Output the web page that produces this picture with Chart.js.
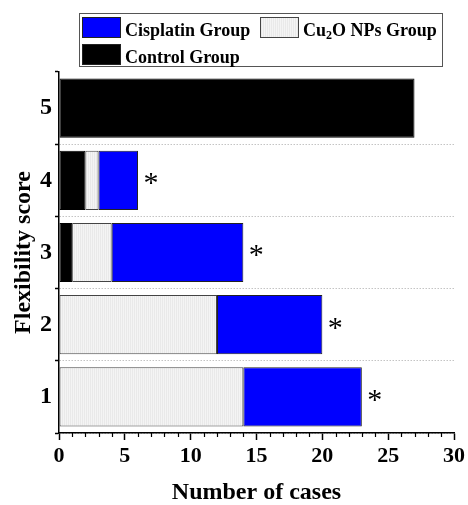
<!DOCTYPE html>
<html>
<head>
<meta charset="utf-8">
<script src="https://cdn.jsdelivr.net/npm/chart.js@4"></script>
<style>
  html, body { margin: 0; padding: 0; background: #fff; }
  #wrap { position: relative; width: 468px; height: 505px; }
  #chart { position: absolute; left: 0; top: 0; }
  #legend {
    position: absolute; left: 79px; top: 13px; width: 362px; height: 52px;
    border: 1px solid #555; box-sizing: content-box;
    font-family: "Liberation Serif", "Times New Roman", serif;
    font-weight: bold; font-size: 18px; color: #000;
  }
  .sw { position: absolute; width: 37px; height: 19px; border: 1px solid #222; }
  .lab { position: absolute; line-height: 18px; white-space: nowrap; }
  .lab sub { font-size: 12px; line-height: 0; vertical-align: -3px; }
</style>
</head>
<body>
<div id="wrap">
  <canvas id="chart" width="468" height="505"></canvas>
  <div id="legend"></div>
</div>
<script>
// Flexibility score per group (number of cases)
const scores = ['5', '4', '3', '2', '1'];
const controlCases = [27, 2, 1, 0, 0];
const cu2oCases = [0, 1, 3, 12, 14];
const cisplatinCases = [0, 3, 10, 8, 9];
const significance = ['', '*', '*', '*', '*'];
const xMin = 0, xMax = 30, xMajorStep = 5;

const SERIF = '"Liberation Serif", "Times New Roman", serif';

// fine vertical hatch used for the Cu2O NPs group
function makeHatch() {
  const c = document.createElement('canvas');
  c.width = 2; c.height = 2;
  const g = c.getContext('2d');
  g.fillStyle = '#f4f4f4';
  g.fillRect(0, 0, 2, 2);
  g.fillStyle = '#e9e9e9';
  g.fillRect(0, 0, 1, 2);
  return g.createPattern(c, 'repeat');
}
const ctx = document.getElementById('chart').getContext('2d');
const hatch = makeHatch();

const series = [
  { label: 'Control Group', data: controlCases, backgroundColor: '#000000', borderColor: '#000000' },
  { label: 'Cu2O NPs Group', data: cu2oCases, backgroundColor: hatch, borderColor: '#444444' },
  { label: 'Cisplatin Group', data: cisplatinCases, backgroundColor: '#0000ff', borderColor: '#222222' }
];

// minor ticks on the x axis and significance marks at the end of each bar
const extras = {
  id: 'extras',
  afterDraw(chart) {
    const c = chart.ctx;
    const xs = chart.scales.x;
    const ys = chart.scales.y;
    c.save();
    c.strokeStyle = '#000';
    c.lineWidth = 1.2;
    for (let v = xMin; v <= xMax; v++) {
      if (v % xMajorStep === 0) continue;
      const px = Math.round(xs.getPixelForValue(v)) + 0.5;
      c.beginPath();
      c.moveTo(px, xs.top);
      c.lineTo(px, xs.top + 4);
      c.stroke();
    }
    c.fillStyle = '#000';
    c.font = '30px ' + SERIF;
    c.textAlign = 'center';
    c.textBaseline = 'middle';
    scores.forEach((s, i) => {
      if (!significance[i]) return;
      const total = controlCases[i] + cu2oCases[i] + cisplatinCases[i];
      const px = xs.getPixelForValue(total);
      const py = ys.getPixelForValue(i);
      c.fillText(significance[i], px + 13, py + 4);
    });
    c.restore();
  }
};

new Chart(ctx, {
  type: 'bar',
  data: {
    labels: scores,
    datasets: series.map(s => ({
      label: s.label,
      data: s.data,
      backgroundColor: s.backgroundColor,
      borderColor: s.borderColor,
      borderWidth: 1,
      borderSkipped: false,
      barPercentage: 0.82,
      categoryPercentage: 1
    }))
  },
  options: {
    indexAxis: 'y',
    responsive: false,
    animation: false,
    layout: { padding: { top: 72, right: 13, left: 0, bottom: 0 } },
    plugins: { legend: { display: false }, tooltip: { enabled: false } },
    scales: {
      x: {
        stacked: true,
        min: xMin,
        max: xMax,
        ticks: {
          stepSize: 1,
          autoSkip: false,
          maxRotation: 0,
          padding: 3,
          color: '#000',
          font: { family: SERIF, size: 22, weight: 'bold' },
          callback: v => (v % xMajorStep === 0 ? String(v) : '')
        },
        grid: {
          drawOnChartArea: false,
          tickLength: 7,
          tickWidth: 1.5,
          tickColor: c => (c.tick && c.tick.value % xMajorStep === 0 ? '#000' : 'rgba(0,0,0,0)')
        },
        border: { color: '#000', width: 1.5 },
        title: {
          display: true,
          text: 'Number of cases',
          color: '#000',
          font: { family: SERIF, size: 24, weight: 'bold', lineHeight: 1 },
          padding: { top: 0, bottom: 0 }
        },
        afterFit: s => { s.height = 72; }
      },
      y: {
        stacked: true,
        ticks: {
          padding: 3,
          color: '#000',
          font: { family: SERIF, size: 24, weight: 'bold' }
        },
        grid: {
          offset: true,
          tickLength: 4,
          tickWidth: 1.5,
          tickColor: '#000',
          lineWidth: 1,
          color: c => (c.index === 0 || c.index >= scores.length ? 'rgba(0,0,0,0)' : '#c4c4c4')
        },
        border: { color: '#000', width: 1.5, dash: [1.5, 1.5] },
        title: {
          display: true,
          text: 'Flexibility score',
          color: '#000',
          font: { family: SERIF, size: 24, weight: 'bold', lineHeight: 1 },
          padding: { top: 12, bottom: 0 }
        },
        afterFit: s => { s.width = 59; }
      }
    }
  },
  plugins: [extras]
});

// legend box, listed as in the figure: Cisplatin, Cu2O NPs, Control
const legendItems = [
  { html: 'Cisplatin Group', fill: '#0000ff', x: 2, y: 3, tx: 45 },
  { html: 'Cu<sub>2</sub>O NPs Group', fill: null, x: 180, y: 3, tx: 223 },
  { html: 'Control Group', fill: '#000000', x: 2, y: 30, tx: 45 }
];
const legend = document.getElementById('legend');
legendItems.forEach(it => {
  const sw = document.createElement('div');
  sw.className = 'sw';
  sw.style.left = it.x + 'px';
  sw.style.top = it.y + 'px';
  if (it.fill) {
    sw.style.background = it.fill;
  } else {
    sw.style.background = 'repeating-linear-gradient(90deg, #e9e9e9 0 1px, #f4f4f4 1px 2px)';
    sw.style.borderColor = '#444';
  }
  legend.appendChild(sw);
  const lab = document.createElement('div');
  lab.className = 'lab';
  lab.style.left = it.tx + 'px';
  lab.style.top = (it.y + 4) + 'px';
  lab.innerHTML = it.html;
  legend.appendChild(lab);
});
</script>
</body>
</html>
